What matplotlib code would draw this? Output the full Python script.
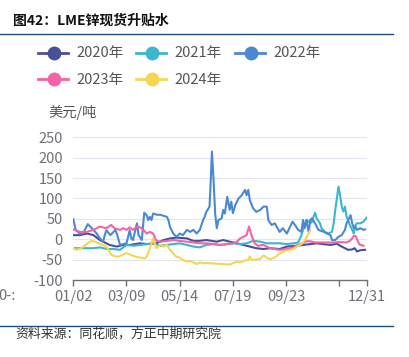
import matplotlib
matplotlib.use("Agg")
import matplotlib.pyplot as plt
from matplotlib.lines import Line2D

plt.rcParams["font.family"] = ["Noto Sans CJK SC", "DejaVu Sans"]
plt.rcParams["axes.unicode_minus"] = False

# ---- 数据（横轴为自 01/02 起的天数） ----
days_2020 = [0, 8, 17, 25, 33, 37, 45, 54, 62, 70, 83, 91, 103, 112, 120, 128, 141, 149, 157, 165,
             178, 186, 194, 203, 211, 219, 227, 236, 244, 256, 265, 277, 285, 294, 302, 310, 319, 327,
             331, 335, 341, 346, 349, 352, 356, 362]
vals_2020 = [10, 10, 14, 10, -2, -6, -14, -18, -14, -14, -10, -12, -10, -2, 2, 4, 2, -4, -4, -2,
             -6, -2, -6, -10, -14, -18, -22, -24, -22, -24, -18, -16, -14, -12, -10, -12, -14, -11,
             -16, -20, -26, -25, -22, -30, -27, -26]

days_2021 = [0, 8, 16, 25, 33, 42, 50, 58, 66, 75, 83, 91, 99, 108, 116, 124, 132, 141, 149, 157,
             165, 174, 182, 190, 199, 207, 215, 223, 232, 240, 248, 256, 265, 273, 279, 283, 285, 288,
             290, 294, 296, 298, 300, 302, 306, 308, 312, 316, 321, 323, 325, 327, 329, 331, 333, 335,
             337, 339, 341, 343, 345, 348, 350, 352, 356, 360, 364]
vals_2021 = [-22, -22, -22, -22, -20, -24, -24, -26, -14, -16, -14, -12, -10, -16, -14, -12, -10, -14,
             -18, -20, -14, -12, -14, -12, -10, -12, -10, -4, -6, -10, -10, -10, -12, -10, -8, 10, 23,
             35, 47, 39, 43, 55, 65, 51, 39, 27, 18, 14, 18, 39, 72, 100, 129, 108, 80, 68, 80, 55, 47,
             35, 27, 14, 35, 39, 39, 43, 53]

days_2022 = [0, 3, 8, 12, 18, 23, 29, 33, 37, 39, 41, 46, 50, 52, 54, 58, 62, 66, 70, 72, 74, 79, 81,
             85, 88, 91, 93, 95, 97, 99, 104, 108, 116, 118, 120, 124, 128, 132, 136, 141, 145, 149,
             153, 157, 161, 163, 165, 169, 170, 172, 174, 176, 178, 180, 184, 186, 188, 191, 194, 196,
             198, 201, 205, 209, 213, 215, 217, 219, 223, 227, 232, 236, 240, 242, 246, 250, 256, 260,
             265, 269, 272, 275, 279, 283, 285, 287, 289, 292, 294, 296, 300, 304, 311, 315, 319, 321,
             325, 329, 333, 337, 339, 344, 346, 348, 350, 352, 356, 360, 362]
vals_2022 = [49, 23, 14, 14, 37, 27, 14, 2, -6, 10, 22, 10, 18, 23, 14, -14, -12, -10, 22, 2, -2, 39,
             10, -2, 65, 59, 47, 55, 47, 63, 60, 60, 55, 47, 30, 14, 6, 14, 10, 23, 18, 23, 14, 23, 47,
             55, 67, 80, 121, 215, 145, 63, 27, 47, 51, 72, 63, 104, 72, 92, 64, 84, 100, 108, 121,
             108, 121, 96, 76, 67, 72, 80, 80, 47, 35, 39, 18, 27, 14, 31, 43, 35, 23, 18, 47, 27, 47,
             18, 47, 51, 39, 23, 18, 14, 10, -2, -2, 6, 10, 23, 39, 59, 39, 27, 31, 23, 27, 23, 24]

days_2023 = [0, 8, 17, 25, 29, 33, 41, 47, 51, 58, 62, 66, 70, 74, 79, 83, 87, 91, 95, 99, 103, 108,
             116, 124, 132, 141, 149, 157, 165, 174, 182, 190, 199, 203, 207, 211, 215, 218, 221, 225,
             229, 236, 244, 250, 256, 265, 273, 281, 285, 289, 294, 300, 306, 314, 323, 331, 339, 343,
             346, 348, 350, 355, 360]
vals_2023 = [24, 18, 18, 23, 27, 31, 27, 35, 27, 23, 27, 23, 29, 23, 31, 29, 23, 14, 18, 14, -4, -6,
             -4, -2, -4, -6, -8, -10, -10, -12, -14, -12, -10, -6, 2, 6, 10, 31, 10, -10, -16, -14,
             -22, -24, -26, -24, -20, -12, -10, -5, -5, -8, -8, -8, -8, -7, -8, -4, 2, 8, 8, -13, -16]

days_2024 = [0, 4, 10, 15, 19, 23, 27, 31, 37, 41, 45, 47, 52, 56, 60, 66, 72, 78, 82, 89, 91, 95,
             97, 99, 101, 103, 108, 112, 116, 120, 124, 128, 132, 136, 141, 145, 149, 153, 157, 161,
             165, 170, 178, 186, 194, 199, 203, 207, 213, 217, 219, 221, 227, 232, 236, 240, 244, 250,
             254, 258, 263, 267, 273, 279, 283, 287, 290, 292, 294]
vals_2024 = [-22, -26, -22, -14, -8, -4, -6, -10, -14, -18, -30, -38, -42, -43, -39, -34, -39, -43,
             -45, -47, -43, -22, -10, 2, -10, -22, -14, -18, -14, -26, -35, -43, -45, -51, -55, -53,
             -57, -61, -57, -59, -58, -59, -60, -61, -62, -58, -55, -57, -52, -51, -42, -50, -50, -48,
             -40, -45, -49, -45, -38, -33, -28, -27, -24, -16, -12, -4, 8, 14, 22]

series_names = ["2020年", "2021年", "2022年", "2023年", "2024年"]
series_days = [days_2020, days_2021, days_2022, days_2023, days_2024]
series_vals = [vals_2020, vals_2021, vals_2022, vals_2023, vals_2024]
colors = ["#4b4f96", "#3bb6cc", "#4a88d3", "#f462a8", "#f5d652"]

tick_days = [0, 66, 132, 198, 264, 330, 364]
tick_labels = ["01/02", "03/09", "05/14", "07/19", "09/23", "", "12/31"]
y_ticks = [-100, -50, 0, 50, 100, 150, 200, 250]

W, H = 410, 357
GREY = "#6e7079"
LINE_BLUE = "#1f4e79"

fig = plt.figure(figsize=(W / 100, H / 100), dpi=100)

# 主图
ax = fig.add_axes([73.3 / W, 1 - 280 / H, 293.4 / W, 142.7 / H])
for d, v, c in zip(series_days, series_vals, colors):
    ax.plot(d, v, color=c, lw=1.5, solid_joinstyle="round", zorder=3)
ax.set_xlim(0, 364)
ax.set_ylim(-100, 250)
ax.set_yticks(y_ticks)
ax.set_xticks(tick_days)
ax.set_xticklabels(tick_labels)
ax.grid(axis="y", color="#e0e6f1", lw=0.8, zorder=0)
for s in ["top", "right", "left"]:
    ax.spines[s].set_visible(False)
ax.spines["bottom"].set_color(GREY)
ax.spines["bottom"].set_linewidth(1.0)
ax.tick_params(axis="y", length=0, pad=7.5, labelsize=10.5, labelcolor=GREY)
ax.tick_params(axis="x", length=4, width=1.0, color=GREY, pad=3.5, labelsize=10.5, labelcolor=GREY)

# 装饰层（像素坐标）
deco = fig.add_axes([0, 0, 1, 1], zorder=-1)
deco.set_xlim(0, W)
deco.set_ylim(H, 0)
deco.axis("off")
deco.text(13, 21, "图42：LME锌现货升贴水", fontsize=10, fontweight="bold",
          color="#111111", ha="left", va="center")
deco.plot([0, 393], [33.5, 33.5], color=LINE_BLUE, lw=1.0)
deco.plot([0, 393], [325.5, 325.5], color=LINE_BLUE, lw=1.0)

legend_pos = [(54, 52.7), (152, 52.7), (251, 52.7), (54, 79.3), (152, 79.3)]
for (lx, ly), name, c in zip(legend_pos, series_names, colors):
    deco.plot([lx - 16, lx + 14], [ly, ly], color=c, lw=2.0)
    deco.plot([lx], [ly], marker="o", markersize=9, color=c)
    deco.text(lx + 22, ly + 0.5, name, fontsize=10.5, color="#555555", ha="left", va="center")

deco.text(48, 112.5, "美元/吨", fontsize=10.3, color="#555555", ha="left", va="center")
deco.text(-2, 296, "0-:", fontsize=10.5, color=GREY, ha="left", va="center")
deco.text(15, 334, "资料来源：同花顺，方正中期研究院", fontsize=9.3, style="italic",
          color="#333333", ha="left", va="center")

fig.savefig("out.png", dpi=100)
